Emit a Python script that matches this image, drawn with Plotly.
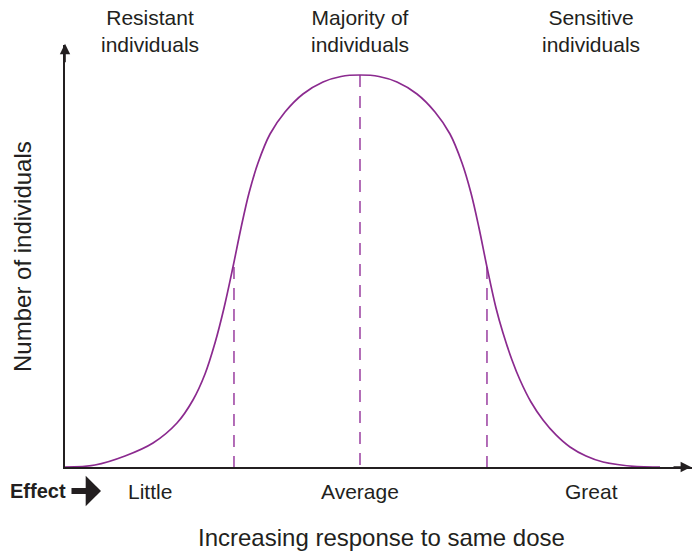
import plotly.graph_objects as go

# Curve: response (0-100) vs number of individuals (0-100)
response = [0, 4.78, 9.57, 14.04, 17.86, 20.41, 22.33, 23.92, 25.36, 26.79, 28.07, 29.35, 30.78,
            32.70, 35.09, 37.96, 41.15, 44.02, 47.05, 50.08, 52.95, 56.14, 59.01, 61.40, 63.32,
            64.75, 66.03, 67.30, 68.74, 69.86, 71.29, 72.57, 74.32, 76.24, 78.31, 80.54, 83.10,
            85.81, 91.23, 94.90]
individuals = [0, 0.47, 2.61, 5.69, 10.43, 15.88, 22.04, 29.38, 37.68, 47.39, 56.64, 64.93, 72.04,
               78.91, 84.12, 88.39, 91.23, 92.54, 92.89, 92.54, 91.23, 88.39, 84.12, 78.91, 72.04,
               64.93, 56.64, 47.39, 37.68, 31.75, 25.36, 20.62, 15.40, 11.14, 7.60, 4.74, 2.60,
               1.18, 0.10, 0]

# Dashed markers
marker_x = [26.95, 47.05, 67.30]
marker_top = [47.39, 92.89, 47.39]

group_labels = ["Resistant<br>individuals", "Majority of<br>individuals", "Sensitive<br>individuals"]
effect_labels = ["Little", "Average", "Great"]
label_x = [0.1356, 0.4705, 0.839]

PURPLE = "#8B2A8F"
DASH = "#A04AA6"
INK = "#231F20"
FONT = "Liberation Sans, Arial, sans-serif"

fig = go.Figure()
for mx, mt in zip(marker_x, marker_top):
    fig.add_trace(go.Scatter(x=[mx, mx], y=[mt, 0], mode="lines",
                             line=dict(color=DASH, width=1.6, dash="12px,9px"),
                             hoverinfo="skip", showlegend=False))
fig.add_trace(go.Scatter(x=response, y=individuals, mode="lines",
                         line=dict(color=PURPLE, width=1.7, shape="spline", smoothing=1.0),
                         showlegend=False))

ann = []
for lx, gl in zip(label_x, group_labels):
    ann.append(dict(x=lx, y=1.033, xref="paper", yref="paper", text=gl, showarrow=False,
                    font=dict(size=21, color=INK, family=FONT), xanchor="center", yanchor="middle"))
for lx, el in zip(label_x, effect_labels):
    ann.append(dict(x=lx, y=-0.057, xref="paper", yref="paper", text=el, showarrow=False,
                    font=dict(size=21, color=INK, family=FONT), xanchor="center", yanchor="middle"))
ann.append(dict(x=0.004, y=-0.057, xref="paper", yref="paper", text="<b>Effect</b>", showarrow=False,
                font=dict(size=20, color=INK, family=FONT), xanchor="right", yanchor="middle"))
# block arrow after "Effect"
ann.append(dict(x=0.0574, y=-0.057, ax=-31, ay=0, xref="paper", yref="paper",
                text="", showarrow=True, arrowhead=1, arrowsize=0.85, arrowwidth=6, arrowcolor=INK))
ann.append(dict(x=0.504, y=-0.168, xref="paper", yref="paper", text="Increasing response to same dose",
                showarrow=False, font=dict(size=24, color=INK, family=FONT),
                xanchor="center", yanchor="middle"))
ann.append(dict(x=-0.0686, y=0.5, xref="paper", yref="paper", text="Number of individuals", textangle=-90,
                showarrow=False, font=dict(size=24, color=INK, family=FONT),
                xanchor="center", yanchor="middle"))
# axis arrowheads
ann.append(dict(x=1.0, y=0, ax=-20, ay=0, xref="paper", yref="paper", text="",
                showarrow=True, arrowhead=2, arrowsize=1.3, arrowwidth=1.6, arrowcolor=INK))
ann.append(dict(x=0, y=1.003, ax=0, ay=20, xref="paper", yref="paper", text="",
                showarrow=True, arrowhead=2, arrowsize=1.3, arrowwidth=1.6, arrowcolor=INK))

fig.update_layout(
    width=692, height=554,
    margin=dict(l=65, r=0, t=45, b=87),
    paper_bgcolor="white", plot_bgcolor="white",
    annotations=ann,
    hovermode=False,
    xaxis=dict(range=[0, 100], showgrid=False, zeroline=False, showticklabels=False, ticks="",
               showline=True, linecolor=INK, linewidth=1.6),
    yaxis=dict(range=[0, 100], showgrid=False, zeroline=False, showticklabels=False, ticks="",
               showline=True, linecolor=INK, linewidth=1.6),
)
fig.write_html("out.html", config={"displayModeBar": False, "staticPlot": True},
               post_script="document.body.style.margin='0';")
